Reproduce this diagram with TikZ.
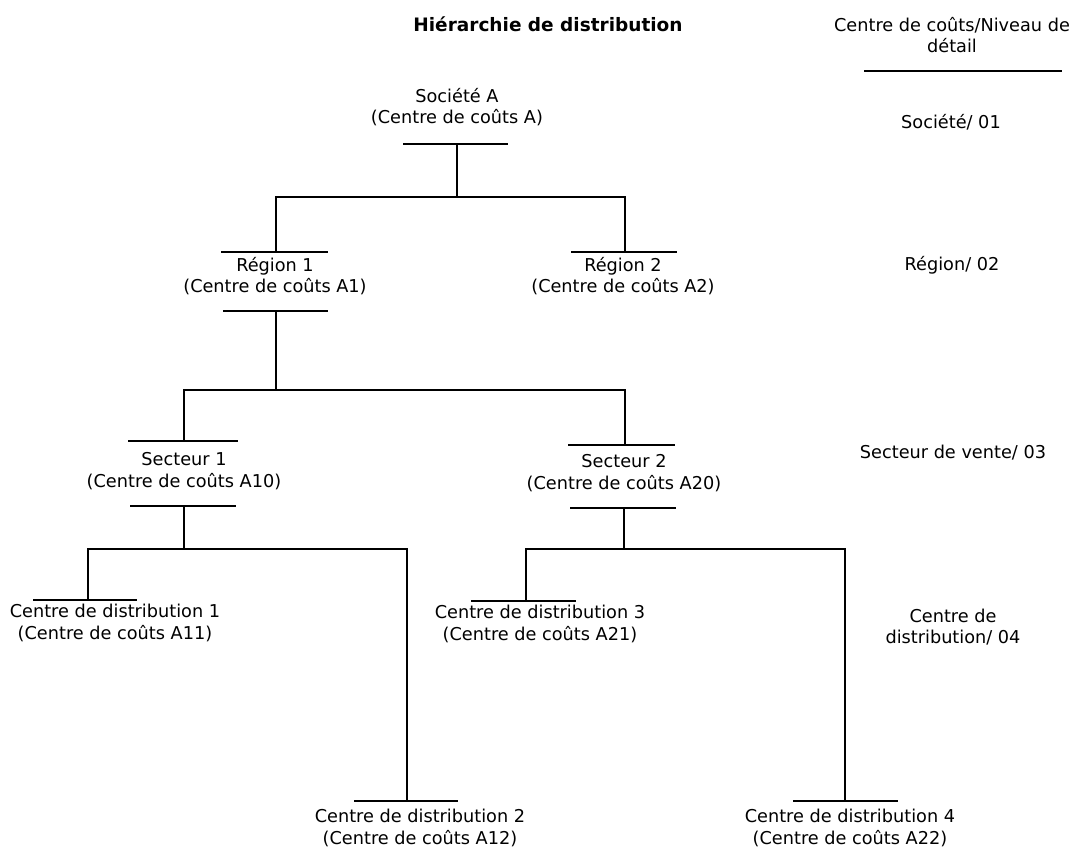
\documentclass[tikz,border=0pt]{standalone}
\usepackage{fontspec}
\setmainfont{DejaVu Sans}
\begin{document}
\begin{tikzpicture}[x=1pt,y=-1pt,
  lbl/.style={inner sep=0pt,align=center,font=\fontsize{17.7}{21.5}\selectfont},
  ttl/.style={inner sep=0pt,font=\fontsize{18.5}{22}\selectfont\bfseries},
  bar/.style={line width=2.6pt},
  wire/.style={line width=2.6pt}]
\useasboundingbox (0,0) rectangle (1077,855);

% title and level column
\node[ttl] (title) at (548,24) {Hiérarchie de distribution};
\node[lbl] (hdr) at (952,35) {Centre de coûts/Niveau de\\détail};
\coordinate (hdrL) at (864,71);
\coordinate (hdrR) at (1062,71);
\draw[bar] (hdrL) -- (hdrR);
\node[lbl] (lvl1) at (951,122) {Société/ 01};
\node[lbl] (lvl2) at (952,265) {Région/ 02};
\node[lbl] (lvl3) at (953,453) {Secteur de vente/ 03};
\node[lbl] (lvl4) at (953,627) {Centre de\\distribution/ 04};

% cost centres
\node[lbl] (soc) at (457,107) {Société A\\(Centre de coûts A)};
\node[lbl] (r1)  at (275,276) {Région 1\\(Centre de coûts A1)};
\node[lbl] (r2)  at (623,276) {Région 2\\(Centre de coûts A2)};
\node[lbl] (s1)  at (184,471) {Secteur 1\\(Centre de coûts A10)};
\node[lbl] (s2)  at (624,473) {Secteur 2\\(Centre de coûts A20)};
\node[lbl] (cd1) at (115,623) {Centre de distribution 1\\(Centre de coûts A11)};
\node[lbl] (cd3) at (540,624) {Centre de distribution 3\\(Centre de coûts A21)};
\node[lbl] (cd2) at (420,828) {Centre de distribution 2\\(Centre de coûts A12)};
\node[lbl] (cd4) at (850,828) {Centre de distribution 4\\(Centre de coûts A22)};

% bars above and below the labels
\draw[bar] (403,144) -- (508,144);
\draw[bar] (221,252) -- (328,252);
\draw[bar] (223,311) -- (328,311);
\draw[bar] (571,252) -- (677,252);
\draw[bar] (128,441) -- (238,441);
\draw[bar] (130,506) -- (236,506);
\draw[bar] (568,445) -- (675,445);
\draw[bar] (570,508) -- (676,508);
\draw[bar] (33,600) -- (137,600);
\draw[bar] (471,601) -- (576,601);
\draw[bar] (354,801) -- (458,801);
\draw[bar] (793,801) -- (898,801);

% stem points on the bars and junctions of the tree
\coordinate (socB) at (457,144);
\coordinate (jA)   at (457,197);
\coordinate (r1T)  at (276,252);
\coordinate (r2T)  at (625,252);
\coordinate (r1B)  at (276,311);
\coordinate (jB)   at (276,390);
\coordinate (s1T)  at (184,441);
\coordinate (s2T)  at (625,445);
\coordinate (s1B)  at (184,506);
\coordinate (jC)   at (184,549);
\coordinate (cd1T) at (88,600);
\coordinate (cd2T) at (407,801);
\coordinate (s2B)  at (624,508);
\coordinate (jD)   at (624,549);
\coordinate (cd3T) at (526,601);
\coordinate (cd4T) at (845,801);

% connectors
\draw[wire] (socB) -- (jA) -| (r1T);
\draw[wire] (jA) -| (r2T);
\draw[wire] (r1B) -- (jB) -| (s1T);
\draw[wire] (jB) -| (s2T);
\draw[wire] (s1B) -- (jC) -| (cd1T);
\draw[wire] (jC) -| (cd2T);
\draw[wire] (s2B) -- (jD) -| (cd3T);
\draw[wire] (jD) -| (cd4T);
\end{tikzpicture}
\end{document}
